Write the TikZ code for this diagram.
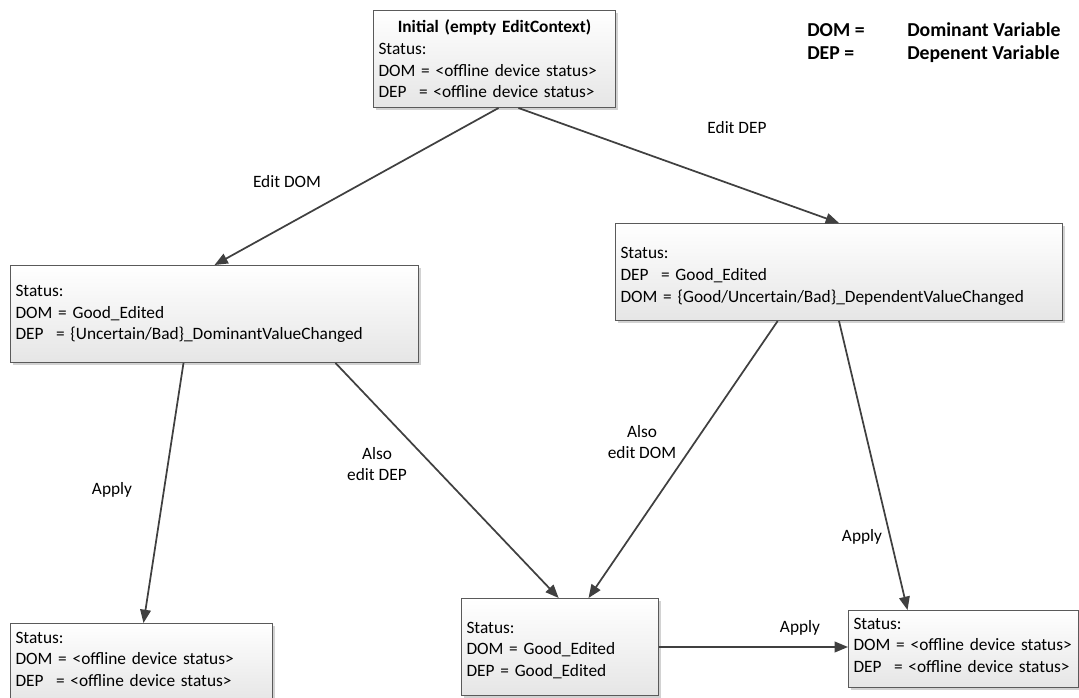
\documentclass[tikz,border=0pt]{standalone}
\usepackage{fontspec}
\setmainfont{Carlito}
\usepackage{tikz}
\usetikzlibrary{arrows.meta,positioning,calc,shadows}
\definecolor{boxline}{HTML}{5A5A5A}
\definecolor{arrowgray}{HTML}{404040}
\newcommand{\depeq}{DEP\hspace{0.72em}=}

\begin{document}
\begin{tikzpicture}[x=0.75pt, y=-0.75pt, >={Triangle[length=10pt,width=8pt]},
  every node/.style={font=\fontsize{13}{16.2}\selectfont},
  statebox/.style={draw=boxline, line width=0.75pt, top color=white, bottom color=black!10,
    drop shadow={shadow xshift=2.2pt, shadow yshift=-2.2pt, fill=black!35},
    inner xsep=3.75pt, inner ysep=0pt, align=left, anchor=north west},
  trans/.style={->, draw=arrowgray, line width=1.3pt},
  lbl/.style={align=center, inner sep=0pt},
  keytext/.style={font=\fontsize{14.8}{17}\selectfont\bfseries, anchor=base west, inner sep=0pt}]
  \useasboundingbox (0,0) rectangle (1079,697);
  % legend
  \node[keytext] (keyDom) at (807,36) {DOM =};
  \node[keytext] (keyDomTxt) at (907,36) {Dominant Variable};
  \node[keytext] (keyDep) at (807,59) {DEP =};
  \node[keytext] (keyDepTxt) at (907,59) {Depenent Variable};
  % states
  \node[statebox, minimum width=181.5pt, text width=174pt, minimum height=72.75pt] (init) at (373,10)
    {\makebox[\linewidth]{\textbf{Initial (empty EditContext)}}\\
     Status:\\ DOM = <offline device status>\\ \depeq{} <offline device status>};
  \node[statebox, minimum width=306pt, text width=298.5pt, minimum height=72.75pt] (domEdit) at (10,265)
    {Status:\\ DOM = Good\_Edited\\ \depeq{} \{Uncertain/Bad\}\_DominantValueChanged};
  \node[statebox, minimum width=335.25pt, text width=327.75pt, minimum height=72.75pt,
    text height=15pt] (depEdit) at (615,223)
    {Status:\\ \depeq{} Good\_Edited\\ DOM = \{Good/Uncertain/Bad\}\_DependentValueChanged};
  \node[statebox, minimum width=196.5pt, text width=189pt, minimum height=59.25pt,
    text height=3pt] (domApplied) at (10,623)
    {Status:\\ DOM = <offline device status>\\ \depeq{} <offline device status>};
  \node[statebox, minimum width=147.75pt, text width=140.25pt, minimum height=72.75pt,
    text height=13.5pt] (bothEdited) at (461,598)
    {Status:\\ DOM = Good\_Edited\\ DEP = Good\_Edited};
  \node[statebox, minimum width=172.5pt, text width=165pt, minimum height=57.75pt,
    text height=3pt] (depApplied) at (848,610)
    {Status:\\ DOM = <offline device status>\\ \depeq{} <offline device status>};
  % transitions
  \draw[trans] ([xshift=3pt]init.south) -- (domEdit.north);
  \draw[trans] ([xshift=18pt]init.south) -- (depEdit.north);
  \draw[trans] ([xshift=-23.25pt]domEdit.south) -- ([xshift=1.5pt]domApplied.north);
  \draw[trans] ([xshift=90.75pt]domEdit.south) -- ([xshift=-1pt]bothEdited.north);
  \draw[trans] ([xshift=-46pt]depEdit.south) -- ([xshift=21.4pt]bothEdited.north);
  \draw[trans] (depEdit.south) -- ([xshift=-42pt]depApplied.north);
  \draw[trans] (bothEdited.east) -- (bothEdited.east -| depApplied.west);
  % transition labels
  \node[lbl] (lblEditDom) at (287,182) {Edit DOM};
  \node[lbl] (lblEditDep) at (737,128) {Edit DEP};
  \node[lbl] (lblApplyDom) at (112,490) {Apply};
  \node[lbl] (lblAlsoDep) at (377,464) {Also\\edit DEP};
  \node[lbl] (lblAlsoDom) at (642,442) {Also\\edit DOM};
  \node[lbl] (lblApplyDep) at (862,537) {Apply};
  \node[lbl] (lblApplyBoth) at (800,628) {Apply};
\end{tikzpicture}
\end{document}
